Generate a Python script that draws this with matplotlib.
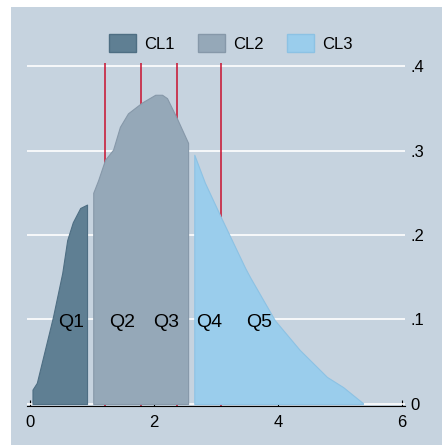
import numpy as np
import matplotlib.pyplot as plt
from matplotlib.patches import Rectangle, Patch

plt.rcParams['font.family'] = ['Liberation Sans', 'DejaVu Sans']

# density traced by class (x, density)
cl1_x = [0.04, 0.04, 0.11, 0.24, 0.37, 0.52, 0.60, 0.69, 0.81, 0.92]
cl1_y = [0.000, 0.017, 0.025, 0.064, 0.103, 0.155, 0.194, 0.215, 0.232, 0.236]

cl2_x = [1.02, 1.10, 1.21, 1.34, 1.45, 1.58, 1.81, 2.02, 2.13, 2.21, 2.37, 2.55]
cl2_y = [0.250, 0.265, 0.289, 0.301, 0.328, 0.344, 0.357, 0.366, 0.366, 0.362, 0.338, 0.309]

cl3_x = [2.65, 2.82, 3.08, 3.47, 3.55, 3.95, 4.35, 4.79, 5.05, 5.37]
cl3_y = [0.295, 0.262, 0.221, 0.161, 0.150, 0.099, 0.064, 0.032, 0.020, 0.001]

quantiles = [1.21, 1.79, 2.37, 3.08]
q_labels = ["Q1", "Q2", "Q3", "Q4", "Q5"]
q_pos = [0.66, 1.48, 2.19, 2.89, 3.69]

classes = ["CL1", "CL2", "CL3"]
fills = ["#5F7F93", "#95A8B8", "#9ACDEC"]
edges = ["#4E6E83", "#8698A9", "#8CC2E4"]
bg = "#C6D3DF"

fig = plt.figure(figsize=(4.42, 4.45), dpi=100, facecolor="white")
fig.patches.append(Rectangle((11/442, 0), 1, 1 - 7/445, transform=fig.transFigure,
                             facecolor=bg, edgecolor="none", zorder=-1))
ax = fig.add_axes([27/442, 39/445, 378/442, 343/445])
ax.set_facecolor(bg)

for xs, ys, fc, ec in zip([cl1_x, cl2_x, cl3_x], [cl1_y, cl2_y, cl3_y], fills, edges):
    xs = np.array(xs)
    ys = np.array(ys)
    ax.fill_between(xs, 0, ys, facecolor=fc, edgecolor=ec, lw=0.8, zorder=3)

for q in quantiles:
    ax.axvline(q, color="#C8102E", lw=1.1, zorder=2)

for lab, xp in zip(q_labels, q_pos):
    ax.text(xp, 0.097, lab, fontsize=14, ha="center", va="center", zorder=4)

ax.set_xlim(-3/62, 6 + 3/62)
ax.set_ylim(-0.0024, 0.4036)
ax.set_xticks([0, 2, 4, 6])
ax.set_xticklabels(["0", "2", "4", "6"])
ax.set_yticks([0, 0.1, 0.2, 0.3, 0.4])
ax.set_yticklabels(["0", ".1", ".2", ".3", ".4"])
ax.yaxis.tick_right()
ax.tick_params(axis="y", length=0, pad=4, labelsize=12)
ax.tick_params(axis="x", direction="in", length=4, width=0.8, pad=6.5, labelsize=12)
ax.grid(axis="y", color="white", lw=1.2, zorder=1)
ax.set_axisbelow(True)
for s in ["top", "left", "right"]:
    ax.spines[s].set_visible(False)
ax.spines["bottom"].set_linewidth(0.8)

handles = [Patch(facecolor=f, edgecolor=e) for f, e in zip(fills, edges)]
fig.legend(handles, classes, loc="center", bbox_to_anchor=(231/442, 1 - 43/445),
           ncol=3, frameon=False, fontsize=12, handlelength=1.6, handleheight=1.2,
           columnspacing=1.4, handletextpad=0.5)

fig.savefig("out.png", dpi=100, facecolor="white")
